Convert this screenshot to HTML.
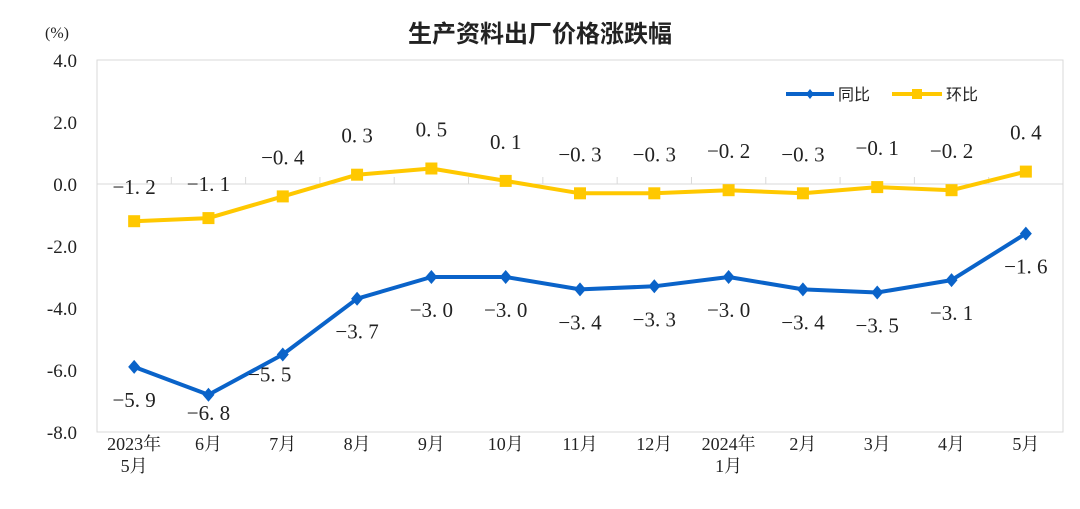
<!DOCTYPE html>
<html><head><meta charset="utf-8"><style>
body{margin:0;background:#fff}
svg text{font-family:"Liberation Serif","Noto Serif CJK SC",serif;fill:#222}
</style></head><body>
<svg width="1080" height="504" id="c">
<text x="540" y="42" text-anchor="middle" font-size="24" font-weight="bold" style="font-family:'Liberation Sans','Noto Sans CJK SC',sans-serif">生产资料出厂价格涨跌幅</text>
<text x="57" y="38" text-anchor="middle" font-size="16">(%)</text>
<rect x="97" y="60" width="966" height="372" fill="none" stroke="#d9d9d9"/>
<g id="axes"></g><g id="series"></g>
<g>
<line x1="786" y1="94" x2="834" y2="94" stroke="#0a63c9" stroke-width="4"/><polygon points="810,89 814,94 810,99 806,94" fill="#0a63c9"/>
<text x="838" y="100" font-size="16" style="font-family:'Liberation Sans','Noto Sans CJK SC',sans-serif">同比</text>
<line x1="892" y1="94" x2="942" y2="94" stroke="#ffc800" stroke-width="4"/><rect x="912" y="89" width="10" height="10" fill="#ffc800"/>
<text x="946" y="100" font-size="16" style="font-family:'Liberation Sans','Noto Sans CJK SC',sans-serif">环比</text>
</g>
</svg>
<script>
const categories=[["2023年","5月"],["6月"],["7月"],["8月"],["9月"],["10月"],["11月"],["12月"],["2024年","1月"],["2月"],["3月"],["4月"],["5月"]];
const yoy=[-5.9,-6.8,-5.5,-3.7,-3.0,-3.0,-3.4,-3.3,-3.0,-3.4,-3.5,-3.1,-1.6];
const mom=[-1.2,-1.1,-0.4,0.3,0.5,0.1,-0.3,-0.3,-0.2,-0.3,-0.1,-0.2,0.4];
const yTicks=[4,2,0,-2,-4,-6,-8];
const NS="http://www.w3.org/2000/svg";
const L=97,R=1063,T=60,B=432,yMax=4,yMin=-8;
const step=(R-L)/categories.length;
const x=i=>L+step*(i+0.5);
const y=v=>T+(yMax-v)/(yMax-yMin)*(B-T);
function mk(tag,attrs,parent){const e=document.createElementNS(NS,tag);for(const k in attrs)e.setAttribute(k,attrs[k]);parent.appendChild(e);return e;}
const ax=document.getElementById('axes'),se=document.getElementById('series');
yTicks.forEach(v=>{const t=mk('text',{x:77,y:y(v)+7,'text-anchor':'end','font-size':19},ax);t.textContent=v.toFixed(1);

});
const zl=mk('line',{x1:L,y1:y(0),x2:R,y2:y(0),stroke:'#d9d9d9'},ax);


for(let i=1;i<categories.length;i++){const tk=mk('line',{x1:L+step*i,y1:y(0)-7,x2:L+step*i,y2:y(0),stroke:'#d9d9d9'},ax);

}
categories.forEach((c,i)=>{c.forEach((s,j)=>{const t=mk('text',{x:x(i),y:450+j*22,'text-anchor':'middle','font-size':18},ax);t.textContent=s;

});});
function fmt(v){return (v<0?'−':'')+Math.abs(v).toFixed(1).replace('.','. ');}
function draw(data,color,name,marker,below){
const p=mk('polyline',{points:data.map((v,i)=>x(i)+','+y(v)).join(' '),fill:'none',stroke:color,'stroke-width':4,'stroke-linejoin':'round'},se);


data.forEach((v,i)=>{const cx=x(i),cy=y(v);let m;
if(marker==='d')m=mk('polygon',{points:`${cx},${cy-7} ${cx+6},${cy} ${cx},${cy+7} ${cx-6},${cy}`,fill:color},se);
else m=mk('rect',{x:cx-6,y:cy-6,width:12,height:12,fill:color},se);


let ty,tx=cx;
if(below){ty=Math.min(cy+40,420);if(i>0&&i<data.length-1&&data[i+1]-v>1.5&&data[i-1]<v){ty=cy+27;tx=cx-13;}}
else{ty=cy-32;if(i<2)ty=cy-27;}
const t=mk('text',{x:tx,y:ty,'text-anchor':'middle','font-size':21},se);t.textContent=fmt(v);

});}
draw(mom,'#ffc800','mom','s',false);
draw(yoy,'#0a63c9','yoy','d',true);
</script>
</body></html>
